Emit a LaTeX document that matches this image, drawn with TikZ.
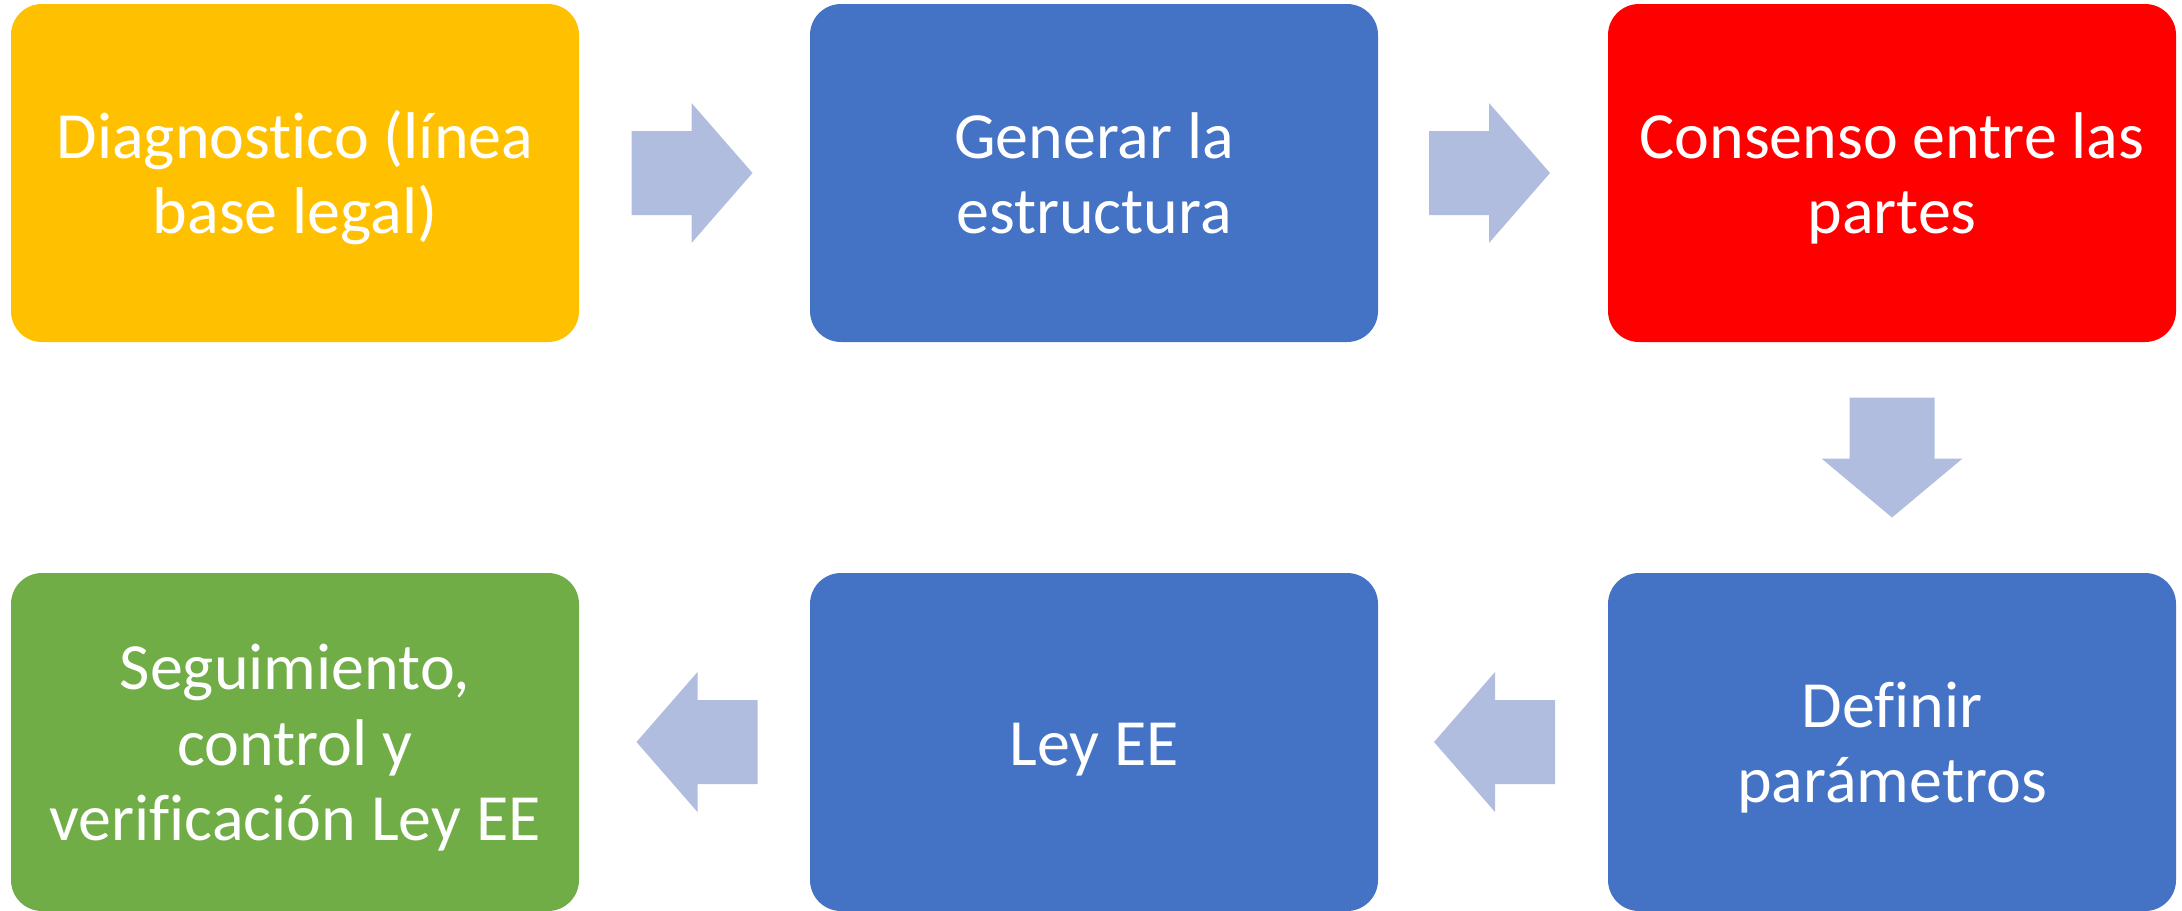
\documentclass[tikz,border=0pt]{standalone}
\usepackage{fontspec}
\setmainfont[Ligatures={NoCommon}]{Carlito}
\definecolor{cOrange}{HTML}{FFC000}
\definecolor{cBlue}{HTML}{4472C4}
\definecolor{cRed}{HTML}{FF0000}
\definecolor{cGreen}{HTML}{70AD47}
\definecolor{cArrow}{RGB}{176,189,223}
\newcommand\tline[1]{\rule[-7.4pt]{0pt}{37.8pt}\smash{#1}}
\newenvironment{boxtext}{\renewcommand\arraystretch{0}\begin{tabular}{@{}c@{}}}{\end{tabular}}
\tikzset{
  stepbox/.style={rounded corners=15.5pt, minimum width=284pt, minimum height=169pt,
    inner sep=0pt, align=center, text=white,
    font=\fontsize{33}{37.8}\selectfont},
  pics/rarr/.style={code={\fill[cArrow] (-60,-42) -- (0,-42) -- (0,-70) -- (61,0) -- (0,70) -- (0,42) -- (-60,42) -- cycle;}},
  pics/larr/.style={code={\fill[cArrow] (60,-42) -- (0,-42) -- (0,-70) -- (-61,0) -- (0,70) -- (0,42) -- (60,42) -- cycle;}},
  pics/darr/.style={code={\fill[cArrow] (-42.5,-60) -- (-42.5,1) -- (-70.5,1) -- (0,60) -- (70.5,1) -- (42.5,1) -- (42.5,-60) -- cycle;}},
}
\begin{document}
\begin{tikzpicture}[x=0.5pt,y=-0.5pt]
\useasboundingbox (0,0) rectangle (2182,910);
\node[stepbox, fill=cOrange] (b1) at (295,173) {\begin{boxtext}\tline{Diagnostico (línea}\\\tline{base legal)}\end{boxtext}};
\node[stepbox, fill=cBlue] (b2) at (1094,173) {\begin{boxtext}\tline{Generar la}\\\tline{estructura}\end{boxtext}};
\node[stepbox, fill=cRed] (b3) at (1892,173) {\begin{boxtext}\tline{Consenso entre las}\\\tline{partes}\end{boxtext}};
\node[stepbox, fill=cBlue] (b4) at (1892,742) {\begin{boxtext}\tline{Definir}\\\tline{parámetros}\end{boxtext}};
\node[stepbox, fill=cBlue] (b5) at (1094,742) {\begin{boxtext}\tline{Ley EE}\end{boxtext}};
\node[stepbox, fill=cGreen] (b6) at (295,742) {\begin{boxtext}\tline{Seguimiento,}\\\tline{control y}\\\tline{verificación Ley EE}\end{boxtext}};
\path (b1.east) -- (b2.west) pic[midway, xshift=-1.5pt] {rarr};
\path (b2.east) -- (b3.west) pic[midway, xshift=-2pt] {rarr};
\path (b3.south) -- (b4.north) pic[midway] {darr};
\path (b4.west) -- (b5.east) pic[midway, xshift=1pt] {larr};
\path (b5.west) -- (b6.east) pic[midway, xshift=1.5pt] {larr};
\end{tikzpicture}
\end{document}
